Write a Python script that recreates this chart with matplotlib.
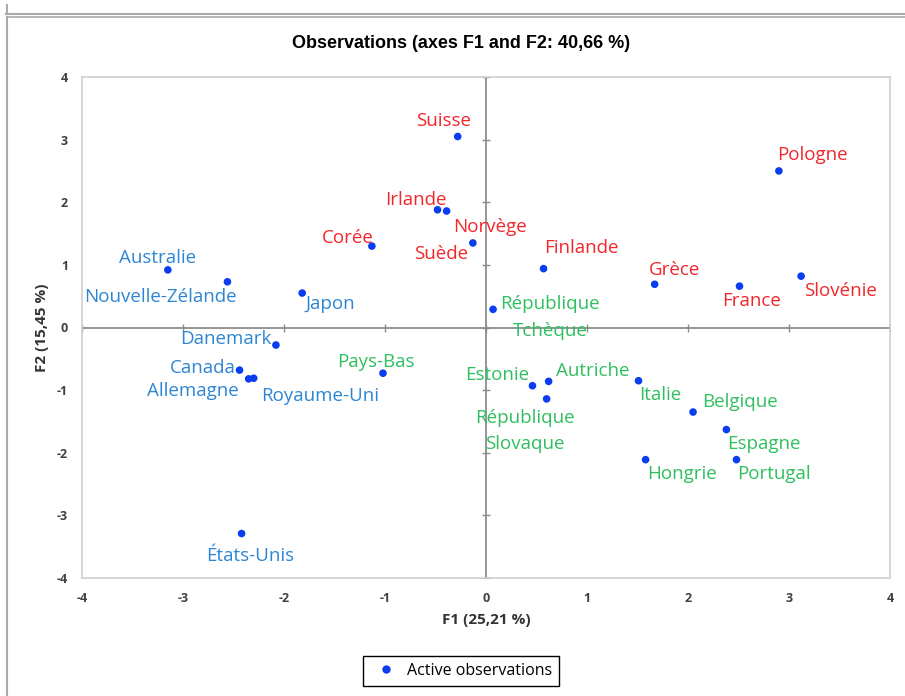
import numpy as np
import matplotlib.pyplot as plt
from matplotlib.lines import Line2D

plt.rcParams["axes.unicode_minus"] = False

# observations on the first two factors
countries = ["Suisse", "Pologne", "Irlande", "Norvège", "Suède", "Corée",
             "Finlande", "Grèce", "France", "Slovénie",
             "Australie", "Nouvelle-Zélande", "Japon", "Danemark", "Canada",
             "Allemagne", "Royaume-Uni", "États-Unis",
             "République\nTchèque", "Pays-Bas", "Estonie", "Autriche",
             "République\nSlovaque", "Italie", "Belgique", "Espagne",
             "Hongrie", "Portugal"]
f1 = [-0.28, 2.90, -0.48, -0.39, -0.13, -1.13, 0.57, 1.67, 2.51, 3.12,
      -3.15, -2.56, -1.82, -2.08, -2.44, -2.35, -2.30, -2.42,
      0.07, -1.02, 0.46, 0.62, 0.60, 1.51, 2.05, 2.38, 1.58, 2.48]
f2 = [3.05, 2.50, 1.88, 1.86, 1.35, 1.30, 0.94, 0.69, 0.66, 0.82,
      0.92, 0.73, 0.55, -0.28, -0.68, -0.82, -0.81, -3.29,
      0.29, -0.73, -0.93, -0.86, -1.14, -0.85, -1.35, -1.63, -2.11, -2.11]
groups = ["r"] * 10 + ["b"] * 8 + ["g"] * 10

ticks = [-4, -3, -2, -1, 0, 1, 2, 3, 4]

group_colors = {"r": "#f2262b", "b": "#2c86d4", "g": "#2fbf5f"}

# label offsets in pixels (dx, dy), same order as countries
label_offsets = [(-14, 15), (34, 16), (-22, 10), (43, -16), (-32, -11), (-24, 8),
                 (38, 21), (20, 14), (12, -15), (39, -15),
                 (-10, 12), (-67, -15), (28, -11), (-50, 6), (-37, 2),
                 (-56, -12), (66, -18), (9, -22),
                 (57, -8), (-7, 11), (-35, 11), (44, 10),
                 (-22, -32), (22, -14), (47, 10), (37, -14), (36, -14), (37, -14)]

fig = plt.figure(figsize=(9.05, 6.96), dpi=100)
ax = fig.add_axes([82 / 905, 1 - 578 / 696, 808 / 905, 501 / 696])

ax.axhline(0, color="#8c8c8c", lw=1.3, zorder=1)
ax.axvline(0, color="#8c8c8c", lw=1.3, zorder=1)
ax.plot(ticks, [0] * len(ticks), ls="none", marker="|", ms=6, mew=1, color="#8c8c8c")
ax.plot([0] * len(ticks), ticks, ls="none", marker="_", ms=6, mew=1, color="#8c8c8c")

ax.scatter(f1, f2, s=30, color="#0a3cf0", edgecolors="none", zorder=3)

for name, x, y, g, off in zip(countries, f1, f2, groups, label_offsets):
    ax.annotate(name, (x, y), xytext=off, textcoords="offset pixels",
                ha="center", va="center", color=group_colors[g],
                fontsize=13.5, family="Open Sans", linespacing=1.6)

ax.set_xlim(-4, 4)
ax.set_ylim(-4, 4)
ax.set_xticks(ticks)
ax.set_yticks(ticks)
ax.tick_params(length=0, pad=10, labelsize=9, labelcolor="#404040")
for lab in ax.get_xticklabels() + ax.get_yticklabels():
    lab.set_family("Open Sans")
    lab.set_fontweight("bold")
for s in ax.spines.values():
    s.set_color("#d0d0d0")
    s.set_linewidth(1.2)

ax.set_xlabel("F1 (25,21 %)", fontsize=11, fontweight="bold", family="Open Sans",
              color="#333333", labelpad=6)
ax.set_ylabel("F2 (15,45 %)", fontsize=11, fontweight="bold", family="Open Sans",
              color="#333333", labelpad=6)
fig.text(461 / 905, 1 - 44 / 696, "Observations (axes F1 and F2: 40,66 %)",
         ha="center", va="center", fontsize=13, fontweight="bold",
         family="Liberation Sans")

handle = Line2D([], [], ls="none", marker="o", ms=5, color="#0a3cf0")
leg = fig.legend([handle], ["Active observations"], loc="center",
                 bbox_to_anchor=(461 / 905, 1 - 671 / 696), fancybox=False,
                 edgecolor="black", framealpha=1, handletextpad=0.3,
                 handlelength=2.0, borderpad=0.45,
                 prop={"family": "Open Sans", "size": 11.5})
leg.get_frame().set_linewidth(1.0)

# outer frame of the sheet
fig.add_artist(Line2D([6 / 905, 1], [1 - 14 / 696] * 2, color="#aaaaaa", lw=1.5))
fig.add_artist(Line2D([8 / 905, 1], [1 - 17 / 696] * 2, color="#aaaaaa", lw=1.2))
fig.add_artist(Line2D([7 / 905] * 2, [0, 1 - 17 / 696], color="#aaaaaa", lw=1.5))
fig.add_artist(Line2D([7 / 905] * 2, [1 - 5 / 696, 1 - 14 / 696], color="#aaaaaa", lw=1.5))

fig.savefig("out.png", dpi=100)
